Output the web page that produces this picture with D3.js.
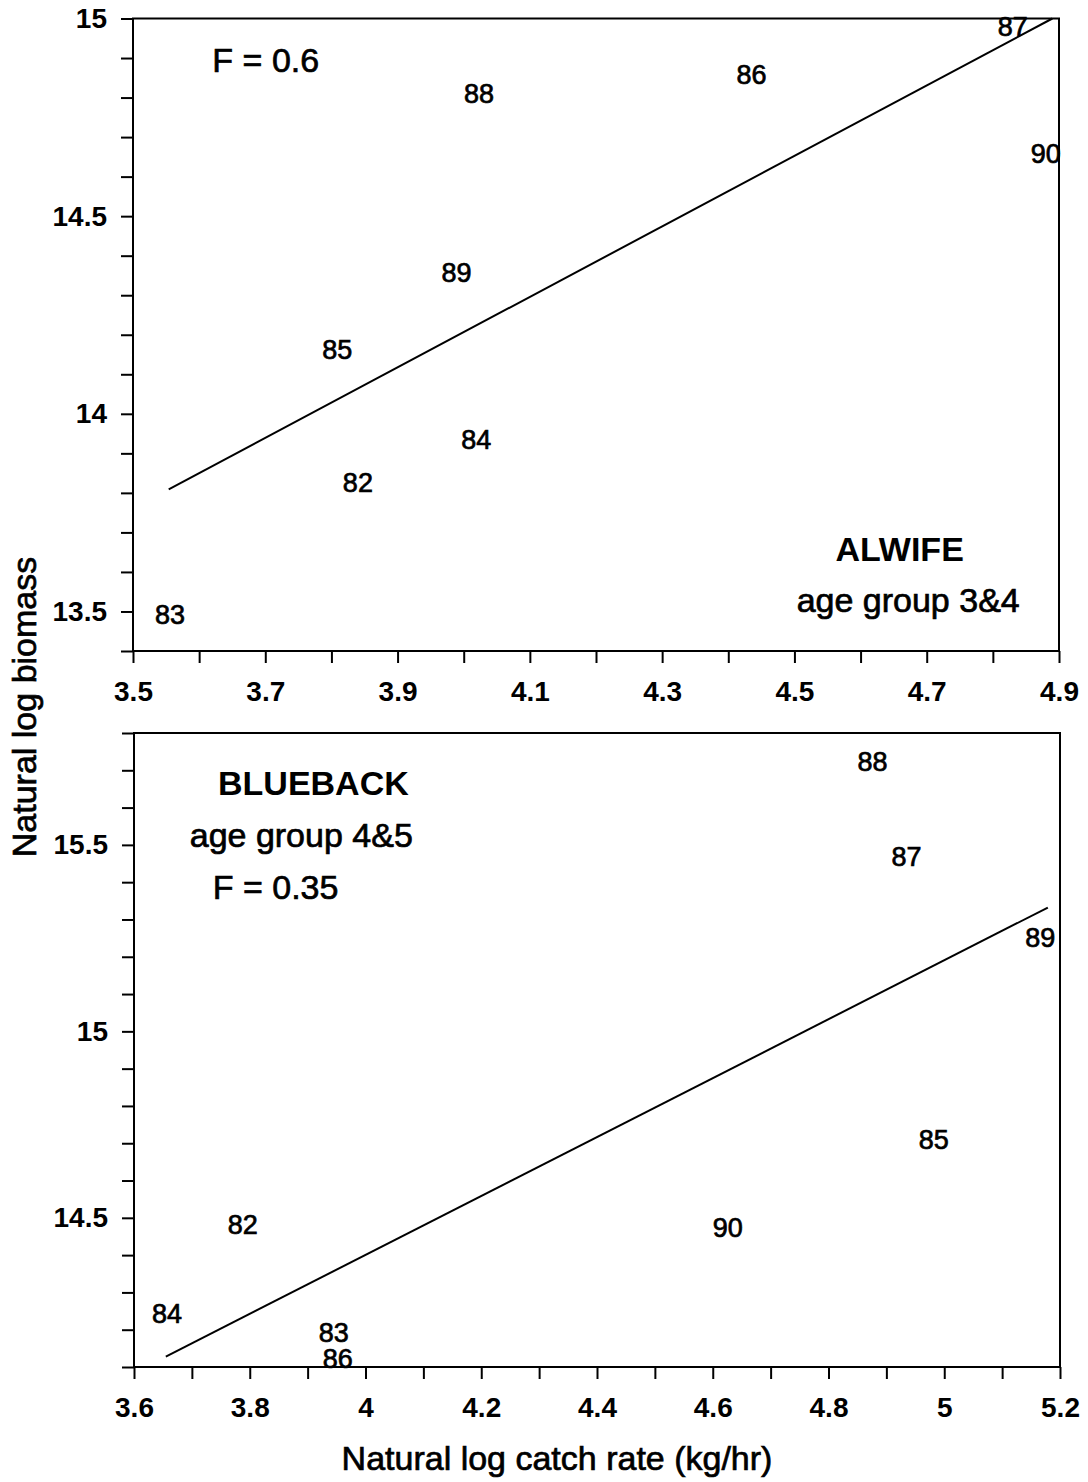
<!DOCTYPE html>
<html>
<head>
<meta charset="utf-8">
<script src="https://cdn.jsdelivr.net/npm/d3@7"></script>
<style>
  body { margin: 0; background: #fff; }
  svg { display: block; font-family: "Liberation Sans", Arial, Helvetica, sans-serif; }
  .tick line, .domain { stroke: #000; stroke-width: 2; }
  /* the scanned original has heavy type, thicken the regular text a little */
  .heavy { stroke: #000; stroke-width: 0.7px; }
</style>
</head>
<body>
<div id="chart"></div>
<script>
// year labels used as the plotting symbols
var alewifeYears   = ["82", "83", "84", "85", "86", "87", "88", "89", "90"];
var alewifeCatch   = [3.840, 3.556, 4.019, 3.809, 4.435, 4.830, 4.023, 3.989, 4.880];
var alewifeBiomass = [13.827, 13.492, 13.936, 14.163, 14.860, 14.980, 14.810, 14.357, 14.660];
var alewifeFitX = [3.554, 4.890];
var alewifeFitY = [13.809, 15.0];

var bluebackYears   = ["82", "83", "84", "85", "86", "87", "88", "89", "90"];
var bluebackCatch   = [3.788, 3.945, 3.657, 4.982, 3.952, 4.935, 4.876, 5.166, 4.626];
var bluebackBiomass = [14.483, 14.192, 14.244, 14.711, 14.123, 15.469, 15.725, 15.252, 14.475];
var bluebackFitX = [3.655, 5.179];
var bluebackFitY = [14.128, 15.332];

var W = 1088, H = 1482;

var svg = d3.select("#chart").append("svg")
	.attr("width", W)
	.attr("height", H);

svg.append("rect").attr("width", W).attr("height", H).attr("fill", "#fff");

function ticks(lo, hi) {
	// every 0.1 between lo and hi
	var n = Math.round((hi - lo) * 10);
	return d3.range(n + 1).map(function (i) { return +(lo + i * 0.1).toFixed(1); });
}

function fmt(v) { return String(+v.toFixed(1)); }

function drawPanel(opt) {
	var x = d3.scaleLinear().domain(opt.xDomain).range([opt.left, opt.right]);
	var y = d3.scaleLinear().domain(opt.yDomain).range([opt.bottom, opt.top]);

	var g = svg.append("g");

	// x axis, a tick every 0.1, labels on every other one
	var xt = ticks(opt.xDomain[0], opt.xDomain[1]);
	var xAxis = d3.axisBottom(x)
		.tickValues(xt)
		.tickSize(12)
		.tickSizeOuter(0)
		.tickPadding(18)
		.tickFormat(function (d, i) { return i % 2 === 0 ? fmt(d) : ""; });
	g.append("g")
		.attr("transform", "translate(0," + opt.bottom + ")")
		.call(xAxis)
		.call(function (s) { s.select(".domain").remove(); })
		.selectAll("text")
		.attr("fill", "#000")
		.style("font-size", "28px")
		.style("font-weight", "bold")
		.style("font-family", "'Liberation Sans', Arial, sans-serif");

	// y axis
	var yt = ticks(opt.yDomain[0], opt.yDomain[1]);
	var yAxis = d3.axisLeft(y)
		.tickValues(yt)
		.tickSize(12)
		.tickSizeOuter(0)
		.tickPadding(14)
		.tickFormat(function (d) { return opt.yLabels.indexOf(d) >= 0 ? fmt(d) : ""; });
	g.append("g")
		.attr("transform", "translate(" + opt.left + ",0)")
		.call(yAxis)
		.call(function (s) { s.select(".domain").remove(); })
		.selectAll("text")
		.attr("fill", "#000")
		.style("font-size", "28px")
		.style("font-weight", "bold")
		.style("font-family", "'Liberation Sans', Arial, sans-serif");

	// frame
	g.append("rect")
		.attr("x", opt.left)
		.attr("y", opt.top)
		.attr("width", opt.right - opt.left)
		.attr("height", opt.bottom - opt.top)
		.attr("fill", "none")
		.attr("stroke", "#000")
		.attr("stroke-width", 2);

	// fitted line
	var line = d3.line()
		.x(function (d) { return x(d[0]); })
		.y(function (d) { return y(d[1]); });
	g.append("path")
		.datum(d3.zip(opt.fitX, opt.fitY))
		.attr("d", line)
		.attr("fill", "none")
		.attr("stroke", "#000")
		.attr("stroke-width", 2);

	// points drawn as year labels
	var pts = opt.years.map(function (yr, i) {
		return { year: yr, cx: opt.catchRate[i], cy: opt.biomass[i] };
	});
	g.selectAll("text.pt")
		.data(pts)
		.enter().append("text")
		.attr("class", "pt heavy")
		.attr("x", function (d) { return x(d.cx); })
		.attr("y", function (d) { return y(d.cy); })
		.attr("dy", "0.36em")
		.attr("text-anchor", "middle")
		.style("font-size", "27px")
		.text(function (d) { return d.year; });

	// annotations
	opt.notes.forEach(function (n) {
		g.append("text")
			.attr("class", n.bold ? null : "heavy")
			.attr("x", x(n.x))
			.attr("y", y(n.y))
			.attr("text-anchor", n.anchor)
			.style("font-size", "34px")
			.style("font-weight", n.bold ? "bold" : "normal")
			.text(n.text);
	});
}

drawPanel({
	left: 133, right: 1059, top: 18.5, bottom: 651,
	xDomain: [3.5, 4.9], yDomain: [13.4, 15.0],
	yLabels: [13.5, 14, 14.5, 15],
	years: alewifeYears, catchRate: alewifeCatch, biomass: alewifeBiomass,
	fitX: alewifeFitX, fitY: alewifeFitY,
	notes: [
		{ text: "F = 0.6", x: 3.62, y: 14.865, anchor: "start" },
		{ text: "ALWIFE", x: 4.659, y: 13.628, anchor: "middle", bold: true },
		{ text: "age group 3&4", x: 4.672, y: 13.499, anchor: "middle" }
	]
});

drawPanel({
	left: 134, right: 1060, top: 733, bottom: 1367,
	xDomain: [3.6, 5.2], yDomain: [14.1, 15.8],
	yLabels: [14.5, 15, 15.5],
	years: bluebackYears, catchRate: bluebackCatch, biomass: bluebackBiomass,
	fitX: bluebackFitX, fitY: bluebackFitY,
	notes: [
		{ text: "BLUEBACK", x: 3.910, y: 15.633, anchor: "middle", bold: true },
		{ text: "age group 4&5", x: 3.889, y: 15.494, anchor: "middle" },
		{ text: "F = 0.35", x: 3.736, y: 15.356, anchor: "start" }
	]
});

// axis titles
svg.append("text")
	.attr("class", "heavy")
	.attr("transform", "translate(36,707) rotate(-90)")
	.attr("text-anchor", "middle")
	.style("font-size", "34px")
	.text("Natural log biomass");

svg.append("text")
	.attr("class", "heavy")
	.attr("x", 557)
	.attr("y", 1470)
	.attr("text-anchor", "middle")
	.style("font-size", "34px")
	.text("Natural log catch rate (kg/hr)");
</script>
</body>
</html>
